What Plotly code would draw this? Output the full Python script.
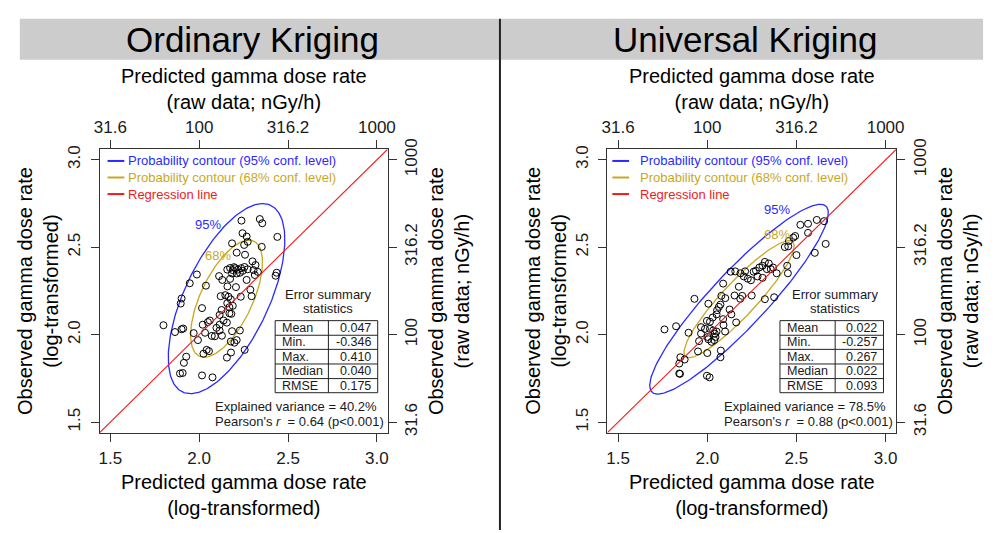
import numpy as np
import plotly.graph_objects as go

W, H = 995, 533
FONT = "Liberation Sans, Arial, sans-serif"

# ---------------- data (log10 scale) ----------------
ok_pred = [2.238, 2.341, 2.355, 2.440, 2.244, 2.267, 2.185, 2.273, 2.352, 2.253,
           2.211, 2.258, 2.300, 2.317, 2.158, 2.174, 2.189, 2.203, 2.218, 2.236,
           2.255, 2.273, 2.185, 2.211, 2.229, 2.112, 2.130, 2.174, 2.267, 2.306,
           2.330, 2.313, 2.436, 2.430, 1.987, 1.947, 2.038, 2.159, 2.207, 2.121,
           2.147, 2.165, 2.178, 2.234, 2.295, 2.288, 1.901, 1.896, 2.158, 2.170,
           2.181, 2.170, 2.016, 2.126, 2.115, 2.060, 2.049, 2.020, 2.115, 2.156,
           1.799, 1.864, 1.901, 1.910, 1.969, 2.033, 2.071, 2.088, 2.115, 2.128,
           2.185, 2.229, 1.993, 2.178, 2.211, 2.198, 2.042, 2.055, 2.024, 2.256,
           2.179, 2.156, 1.927, 1.914, 1.892, 1.907, 2.016, 2.075, 2.137, 2.097,
           2.189, 2.196, 2.245]
ok_obs = [2.652, 2.661, 2.637, 2.559, 2.580, 2.561, 2.522, 2.531, 2.502, 2.513,
          2.469, 2.457, 2.419, 2.398, 2.372, 2.381, 2.369, 2.380, 2.372, 2.380,
          2.387, 2.374, 2.350, 2.350, 2.354, 2.335, 2.313, 2.319, 2.313, 2.369,
          2.359, 2.341, 2.354, 2.337, 2.344, 2.294, 2.280, 2.276, 2.272, 2.220,
          2.226, 2.217, 2.202, 2.217, 2.220, 2.257, 2.207, 2.178, 2.180, 2.157,
          2.119, 2.122, 2.152, 2.141, 2.113, 2.081, 2.072, 2.057, 2.057, 2.069,
          2.054, 2.015, 2.031, 2.035, 2.009, 2.011, 1.993, 1.991, 2.024, 1.994,
          2.020, 2.024, 1.969, 1.961, 1.969, 1.954, 1.913, 1.906, 1.891, 1.913,
          1.898, 1.869, 1.874, 1.839, 1.778, 1.781, 1.767, 1.756, 2.081, 2.039,
          2.165, 2.386, 2.365]

uk_pred = [2.614, 2.655, 2.522, 2.565, 2.565, 2.664, 2.603, 2.493, 2.482, 2.458,
           2.435, 2.454, 2.500, 2.448, 2.452, 2.323, 2.345, 2.356, 2.369, 2.389,
           2.334, 2.310, 2.292, 2.273, 2.260, 2.282, 2.245, 2.227, 2.205, 2.212,
           2.186, 2.157, 2.131, 2.310, 2.089, 2.177, 2.153, 2.196, 2.185, 2.249,
           2.101, 2.079, 2.323, 2.375, 1.928, 2.006, 2.074, 2.065, 2.055, 2.052,
           2.125, 2.135, 2.030, 2.162, 2.089, 2.091, 1.998, 2.015, 1.965, 1.987,
           2.015, 2.033, 2.052, 2.042, 2.046, 2.039, 2.024, 1.965, 2.002, 2.006,
           1.895, 1.825, 1.760, 2.100, 1.954, 1.948, 2.000, 2.076, 2.074, 1.849,
           1.873, 1.843, 1.843, 1.847, 1.998, 2.013]
uk_obs = [2.656, 2.649, 2.628, 2.634, 2.582, 2.519, 2.468, 2.564, 2.555, 2.536,
          2.501, 2.505, 2.455, 2.394, 2.351, 2.416, 2.407, 2.375, 2.384, 2.351,
          2.375, 2.394, 2.384, 2.366, 2.360, 2.333, 2.311, 2.320, 2.333, 2.362,
          2.351, 2.362, 2.360, 2.325, 2.292, 2.274, 2.224, 2.222, 2.205, 2.224,
          2.209, 2.222, 2.203, 2.214, 2.205, 2.177, 2.172, 2.159, 2.140, 2.116,
          2.144, 2.116, 2.098, 2.070, 2.089, 2.055, 2.079, 2.074, 2.043, 2.033,
          2.033, 2.024, 2.018, 2.006, 1.987, 1.969, 1.959, 2.006, 1.987, 1.974,
          2.011, 2.048, 2.030, 2.018, 1.963, 1.904, 1.895, 1.909, 1.871, 1.871,
          1.858, 1.835, 1.778, 1.776, 1.765, 1.756]

axis_range = [1.44, 3.06]
log_ticks = [1.5, 2.0, 2.5, 3.0]
log_labels = ["1.5", "2.0", "2.5", "3.0"]
raw_labels = ["31.6", "100", "316.2", "1000"]

panel_titles = ["Ordinary Kriging", "Universal Kriging"]
stat_names = ["Mean", "Min.", "Max.", "Median", "RMSE"]
ok_stats = ["0.047", "-0.346", "0.410", "0.040", "0.175"]
uk_stats = ["0.022", "-0.257", "0.267", "0.022", "0.093"]
explained = ["40.2%", "78.5%"]
pearson = ["0.64", "0.88"]

# probability-ellipse parameters
ok_ell = dict(mx=2.154, my=2.206, sx=0.134, sy=0.222, r=0.62)
uk_ell = dict(mx=2.178, my=2.203, sx=0.2046, sy=0.2216, r=0.91)
conf_levels = [("95%", 2.4477, "#2a2aff"), ("68%", 1.5096, "#c8a81e")]
level_label_pos = [[(2.052, 2.628), (2.107, 2.450)], [(2.392, 2.717), (2.392, 2.572)]]

BLUE, GOLD, RED = "#2a2aff", "#c8a81e", "#ee1c1c"

# ---------------- layout geometry (pixels) ----------------
panels = [
    dict(x0=95, x1=387, ax=("x", "y", "x2", "y2"), pred=ok_pred, obs=ok_obs, ell=ok_ell,
         stats=ok_stats, tab=(273, 327, 377), leg=(103, 120, 123), txt_x=211,
         ban=(14, 500), title_cx=250),
    dict(x0=610, x1=903, ax=("x3", "y3", "x4", "y4"), pred=uk_pred, obs=uk_obs, ell=uk_ell,
         stats=uk_stats, tab=(785, 841, 890), leg=(615, 632, 642), txt_x=727,
         ban=(502, 991), title_cx=750),
]
Y0, Y1 = 142, 433


def px(x):
    return x / W


def py(y):
    return 1 - y / H


def ellipse(p, k, n=240):
    t = np.linspace(0, 2 * np.pi, n)
    d = np.arccos(p["r"])
    return (p["mx"] + k * p["sx"] * np.cos(t + d / 2),
            p["my"] + k * p["sy"] * np.cos(t - d / 2))


def note(text, x, y, size=13, color="#1a1a1a", xanchor="center", **kw):
    d = dict(text=text, x=x, y=y, xref="paper", yref="paper", showarrow=False,
             xanchor=xanchor, yanchor="middle", borderpad=0,
             font=dict(family=FONT, size=size, color=color))
    d.update(kw)
    return d


fig = go.Figure()
shapes, annotations = [], []
layout_axes = {}

for i, P in enumerate(panels):
    xa, ya, xa2, ya2 = P["ax"]
    # ellipses
    for (lab, k, col) in conf_levels:
        ex, ey = ellipse(P["ell"], k)
        fig.add_trace(go.Scatter(x=ex, y=ey, mode="lines", xaxis=xa, yaxis=ya,
                                 line=dict(color=col, width=1.3), showlegend=False,
                                 hoverinfo="skip"))
    # points
    fig.add_trace(go.Scatter(x=P["pred"], y=P["obs"], mode="markers", xaxis=xa, yaxis=ya,
                             marker=dict(symbol="circle-open", size=7, color="black",
                                         line=dict(width=1)), showlegend=False))
    # 1:1 / regression line (on the raw-scale overlay axes)
    fig.add_trace(go.Scatter(x=axis_range, y=axis_range, mode="lines", xaxis=xa2, yaxis=ya2,
                             line=dict(color=RED, width=1.1), showlegend=False,
                             hoverinfo="skip"))

    dom_x = [px(P["x0"]), px(P["x1"])]
    dom_y = [py(Y1), py(Y0)]
    common = dict(range=axis_range, tickvals=log_ticks, ticks="outside", ticklen=8,
                  tickwidth=1, tickcolor="#333", showgrid=False, zeroline=False,
                  tickfont=dict(family=FONT, size=17, color="#1a1a1a"))
    layout_axes["xaxis" + ("" if xa == "x" else xa[1:])] = dict(
        common, domain=dom_x, anchor=ya, ticktext=log_labels, showline=True,
        linecolor="#333", linewidth=1, mirror=True, ticklabelstandoff=2)
    layout_axes["yaxis" + ("" if ya == "y" else ya[1:])] = dict(
        common, domain=dom_y, anchor=xa, ticktext=log_labels, showline=True,
        linecolor="#333", linewidth=1, mirror=True, tickangle=-90, ticklabelstandoff=4)
    layout_axes["xaxis" + xa2[1:]] = dict(
        common, overlaying=xa, anchor=ya, side="top", ticktext=raw_labels, showline=False)
    layout_axes["yaxis" + ya2[1:]] = dict(
        common, overlaying=ya, anchor=xa, side="right", ticktext=raw_labels,
        showline=False, tickangle=-90)

    cx = (P["x0"] + P["x1"]) / 2
    cy = (Y0 + Y1) / 2
    # banner
    shapes.append(dict(type="rect", xref="paper", yref="paper", x0=px(P["ban"][0]),
                       x1=px(P["ban"][1]), y0=py(50), y1=py(8), fillcolor="#cccccc",
                       line=dict(width=0), layer="below"))
    annotations.append(note(panel_titles[i], px(P["title_cx"]), py(29), size=35,
                            color="black"))
    # axis titles
    annotations += [
        note("Predicted gamma dose rate<br>(raw data; nGy/h)", px(cx), py(80.5), 20, "black"),
        note("Predicted gamma dose rate<br>(log-transformed)", px(cx), py(497.5), 20, "black"),
        note("Observed gamma dose rate<br>(log-transformed)", px(P["x0"] - 62.5), py(cy),
             20, "black", textangle=-90),
        note("Observed gamma dose rate<br>(raw data; nGy/h)", px(P["x1"] + 62.5), py(cy),
             20, "black", textangle=-90),
    ]

    # legend (manual)
    l0, l1, lt = P["leg"]
    for j, (txt, col) in enumerate([("Probability contour (95% conf. level)", BLUE),
                                    ("Probability contour (68% conf. level)", GOLD),
                                    ("Regression line", RED)]):
        yy = 154 + 17 * j
        shapes.append(dict(type="line", xref="paper", yref="paper", x0=px(l0), x1=px(l1),
                           y0=py(yy), y1=py(yy), line=dict(color=col, width=2)))
        annotations.append(note(txt, px(lt), py(yy), 13, col, xanchor="left"))

    # confidence level labels
    for (lab, k, col), (lx, ly) in zip(conf_levels, level_label_pos[i]):
        annotations.append(note(lab, lx, ly, 13, col, xref=xa, yref=ya))

    # error summary table
    tx0, tdiv, tx1 = P["tab"]
    rows = [318, 333, 347.5, 362.5, 377.5, 392]
    annotations.append(note("Error summary", px(tdiv), py(291.5)))
    annotations.append(note("statistics", px(tdiv), py(306)))
    shapes.append(dict(type="rect", xref="paper", yref="paper", x0=px(tx0), x1=px(tx1),
                       y0=py(rows[-1]), y1=py(rows[0]), line=dict(color="#222", width=1)))
    shapes.append(dict(type="line", xref="paper", yref="paper", x0=px(tdiv), x1=px(tdiv),
                       y0=py(rows[-1]), y1=py(rows[0]), line=dict(color="#222", width=1)))
    for r in rows[1:-1]:
        shapes.append(dict(type="line", xref="paper", yref="paper", x0=px(tx0), x1=px(tx1),
                           y0=py(r), y1=py(r), line=dict(color="#222", width=1)))
    for j, (nm, val) in enumerate(zip(stat_names, P["stats"])):
        yc = (rows[j] + rows[j + 1]) / 2
        annotations.append(note(nm, px(tx0 + 6), py(yc), 12.5, xanchor="left"))
        annotations.append(note(val, px(tx1 - 6), py(yc), 12.5, xanchor="right"))
    annotations.append(note("Explained variance = " + explained[i], px(P["txt_x"]),
                            py(406.5), xanchor="left"))
    annotations.append(note("Pearson's <i>r</i>  = " + pearson[i] + " (p&lt;0.001)",
                            px(P["txt_x"]), py(421.5), xanchor="left"))

# vertical separator
shapes.append(dict(type="line", xref="paper", yref="paper", x0=px(501), x1=px(501),
                   y0=0, y1=py(8), line=dict(color="#222", width=2)))

fig.update_layout(width=W, height=H, margin=dict(l=0, r=0, t=0, b=0),
                  paper_bgcolor="white", plot_bgcolor="white", showlegend=False,
                  shapes=shapes, annotations=annotations, font=dict(family=FONT),
                  **layout_axes)
fig.write_html("out.html")
